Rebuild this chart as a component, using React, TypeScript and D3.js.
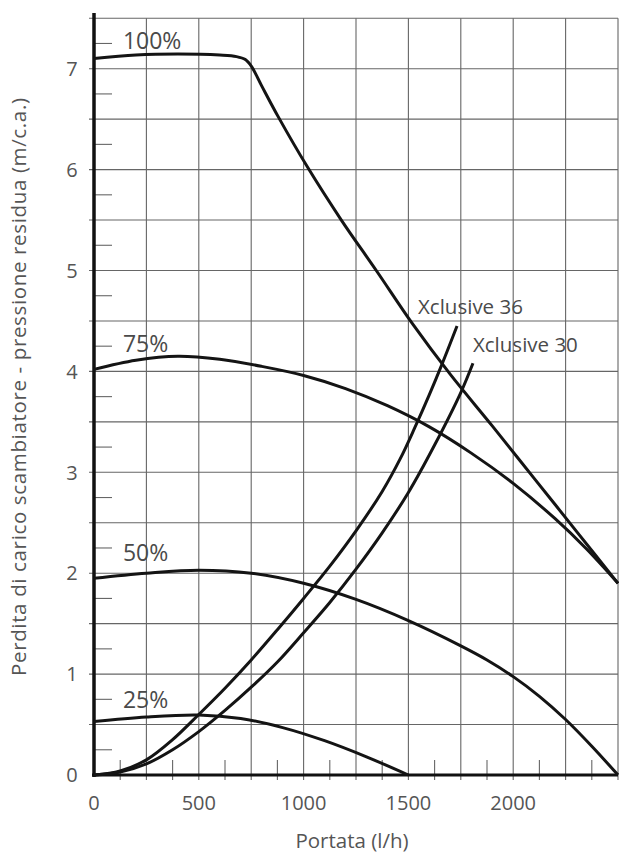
import React from "react";
import * as d3 from "d3";

const W = 619;
const H = 856;

// Flow (l/h) and pressure (m/c.a.) readings
const p100X = [0, 200, 400, 600, 680, 722, 752, 800, 880, 1020, 1180, 1350, 1520, 1700, 1900, 2100, 2300, 2500];
const p100Y = [7.1, 7.135, 7.145, 7.135, 7.12, 7.09, 7.02, 6.83, 6.52, 6.02, 5.5, 4.99, 4.47, 3.97, 3.46, 2.94, 2.42, 1.9];

const p75X = [0, 200, 400, 600, 800, 1000, 1200, 1400, 1600, 1800, 2000, 2200, 2350, 2500];
const p75Y = [4.02, 4.11, 4.15, 4.12, 4.05, 3.96, 3.83, 3.66, 3.45, 3.19, 2.89, 2.54, 2.24, 1.9];

const p50X = [0, 250, 500, 750, 1000, 1250, 1500, 1750, 1875, 2000, 2125, 2250, 2375, 2500];
const p50Y = [1.95, 2.0, 2.03, 2.0, 1.9, 1.74, 1.53, 1.28, 1.14, 0.975, 0.78, 0.55, 0.285, 0.0];

const p25X = [0, 250, 500, 700, 900, 1100, 1300, 1500];
const p25Y = [0.53, 0.575, 0.595, 0.56, 0.47, 0.34, 0.18, 0.0];

const x36X = [0, 125, 250, 375, 500, 625, 750, 875, 1000, 1125, 1250, 1375, 1460, 1530, 1600, 1660, 1732];
const x36Y = [0, 0.04, 0.15, 0.35, 0.6, 0.86, 1.14, 1.44, 1.75, 2.07, 2.42, 2.81, 3.13, 3.44, 3.77, 4.07, 4.45];

const x30X = [0, 125, 250, 375, 500, 625, 750, 875, 1000, 1125, 1250, 1375, 1500, 1625, 1750, 1808];
const x30Y = [0, 0.03, 0.11, 0.25, 0.43, 0.64, 0.87, 1.12, 1.41, 1.71, 2.04, 2.4, 2.8, 3.27, 3.79, 4.08];

const xTickLabels = [0, 500, 1000, 1500, 2000];
const yTickLabels = [0, 1, 2, 3, 4, 5, 6, 7];

const seriesLabels = ["100%", "75%", "50%", "25%", "Xclusive 36", "Xclusive 30"];
const labelX = [138, 138, 138, 138, 1546, 1808];
const labelY = [7.195, 4.19, 2.12, 0.665, 4.57, 4.19];

const xTitle = "Portata (l/h)";
const yTitle = "Perdita di carico scambiatore - pressione residua (m/c.a.)";

const FONT = "'Open Sans', 'DejaVu Sans', sans-serif";

export default function App() {
  const x = d3.scaleLinear().domain([0, 2500]).range([94, 618]);
  const y = d3.scaleLinear().domain([0, 7.5]).range([775, 18.25]);

  const line = d3
    .line<[number, number]>()
    .x((d) => x(d[0]))
    .y((d) => y(d[1]))
    .curve(d3.curveCatmullRom.alpha(0.5));

  const zip = (a: number[], b: number[]) => a.map((v, i) => [v, b[i]] as [number, number]);
  const series = [
    zip(p100X, p100Y),
    zip(p75X, p75Y),
    zip(p50X, p50Y),
    zip(p25X, p25Y),
    zip(x36X, x36Y),
    zip(x30X, x30Y),
  ];

  const vGrid = d3.range(250, 2501, 250);
  const hGrid = d3.range(0.5, 7.51, 0.5);
  const xMinor = d3.range(125, 2500, 250);
  const yMinor = d3.range(0.25, 7.5, 0.5);

  return (
    <svg
      width={W}
      height={H}
      style={{ position: "absolute", left: 0, top: 0, background: "#fff" }}
      fontFamily={FONT}
    >
      <rect width={W} height={H} fill="#fff" />
      {/* grid */}
      {vGrid.map((v) => (
        <line key={"v" + v} x1={x(v)} x2={x(v)} y1={y(7.5)} y2={y(0) + 5} stroke="#666" strokeWidth={1.1} />
      ))}
      {hGrid.map((v) => (
        <line key={"h" + v} x1={x(0) - 5} x2={x(2500)} y1={y(v)} y2={y(v)} stroke="#666" strokeWidth={1.1} />
      ))}
      {/* minor ticks */}
      {xMinor.map((v) => (
        <line key={"xm" + v} x1={x(v)} x2={x(v)} y1={y(0) - 15} y2={y(0) + 5} stroke="#666" strokeWidth={1.1} />
      ))}
      {yMinor.map((v) => (
        <line key={"ym" + v} x1={x(0)} x2={x(0) + 18} y1={y(v)} y2={y(v)} stroke="#666" strokeWidth={1.1} />
      ))}
      {/* axes */}
      <line x1={x(0)} x2={x(0)} y1={13} y2={y(0) + 2} stroke="#111" strokeWidth={3.5} />
      <line x1={x(0) - 2} x2={x(2500)} y1={y(0)} y2={y(0)} stroke="#111" strokeWidth={3} />
      {/* tick labels */}
      {yTickLabels.map((v) => (
        <text key={"yl" + v} x={72} y={y(v)} dy="0.36em" textAnchor="middle" fontSize={20} fill="#555">
          {v}
        </text>
      ))}
      {xTickLabels.map((v) => (
        <text key={"xl" + v} x={x(v)} y={810} textAnchor="middle" fontSize={20} fill="#555">
          {v}
        </text>
      ))}
      {/* curves */}
      {series.map((s, i) => (
        <path key={"s" + i} d={line(s) || ""} fill="none" stroke="#141414" strokeWidth={3} strokeLinejoin="round" strokeLinecap="butt" />
      ))}
      {/* series labels */}
      {seriesLabels.map((t, i) => (
        <text
          key={"lab" + i}
          x={x(labelX[i])}
          y={y(labelY[i])}
          fontSize={i < 4 ? 23 : 20.5}
          fill="#4a4a4a"
        >
          {t}
        </text>
      ))}
      {/* titles */}
      <text x={352} y={848} textAnchor="middle" fontSize={20.5} fill="#555">
        {xTitle}
      </text>
      <text
        transform={`translate(26, ${387}) rotate(-90)`}
        textAnchor="middle"
        fontSize={20.5}
        fill="#555"
        textLength={578}
        lengthAdjust="spacing"
      >
        {yTitle}
      </text>
    </svg>
  );
}
